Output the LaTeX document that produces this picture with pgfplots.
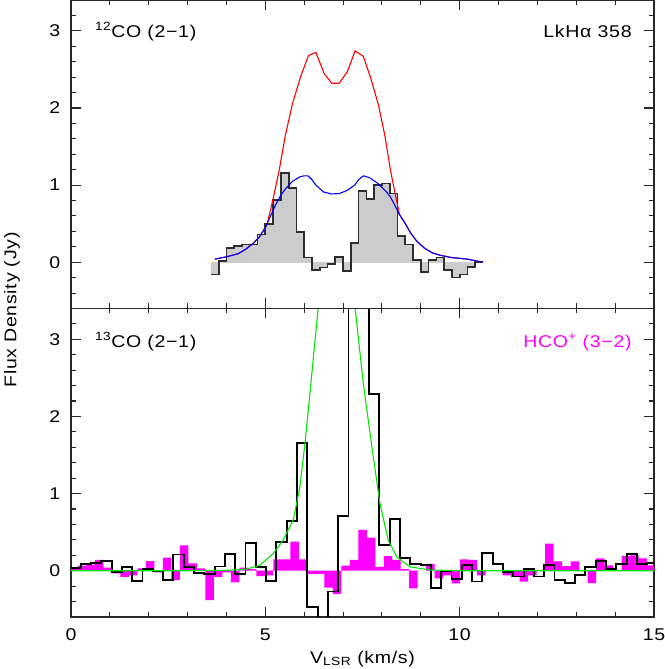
\documentclass[border=0pt]{standalone}
\usepackage{fontspec}
\setmainfont{Liberation Sans}[FakeStretch=1.15,LetterSpace=4]
\usepackage{pgfplots}
\pgfplotsset{compat=1.18}
\definecolor{fillgray}{RGB}{204,204,204}
\definecolor{outgray}{RGB}{45,45,45}
\definecolor{mygreen}{RGB}{0,230,0}
\definecolor{framegray}{RGB}{40,40,40}
\definecolor{mag}{RGB}{255,0,255}
\definecolor{pred}{RGB}{255,0,0}
\definecolor{pblue}{RGB}{0,0,255}

\pgfplotstableread{
x y
3.6 -0.16
3.8 0.02
4.0 0.18
4.2 0.21
4.4 0.23
4.6 0.23
4.8 0.36
5.0 0.50
5.2 0.81
5.4 1.16
5.6 0.96
5.8 0.39
6.0 0.06
6.2 -0.10
6.4 -0.07
6.6 -0.02
6.8 0.07
7.0 -0.11
7.2 0.25
7.4 0.92
7.6 0.82
7.8 1.00
8.0 1.02
8.2 0.89
8.4 0.34
8.6 0.23
8.8 0.03
9.0 -0.13
9.2 0.03
9.4 0.06
9.6 -0.10
9.8 -0.20
10.0 -0.16
10.2 -0.06
10.4 0.00
10.6 0.00
}\twelveco

\pgfplotstableread{
x y
3.70 0.04
4.0 0.07
4.3 0.11
4.5 0.17
4.7 0.25
4.85 0.33
5.0 0.45
5.1 0.56
5.25 0.73
5.4 0.87
5.5 0.94
5.7 1.05
5.9 1.11
6.0 1.12
6.1 1.12
6.2 1.07
6.3 1.00
6.5 0.91
6.7 0.885
6.9 0.89
7.1 0.93
7.3 1.00
7.4 1.07
7.52 1.12
7.6 1.11
7.7 1.09
7.9 1.02
8.1 0.92
8.2 0.86
8.3 0.77
8.45 0.62
8.6 0.50
8.75 0.37
8.9 0.27
9.1 0.18
9.3 0.12
9.5 0.09
9.8 0.06
10.2 0.04
10.6 0.00
}\bluemodel

\pgfplotstableread{
x y
3.70 0.04
4.0 0.07
4.3 0.11
4.5 0.17
4.7 0.25
4.85 0.33
5.0 0.45
5.05 0.50
5.2 0.82
5.36 1.20
5.51 1.63
5.70 2.06
5.91 2.41
6.11 2.68
6.30 2.72
6.51 2.45
6.71 2.32
6.90 2.32
7.11 2.47
7.31 2.74
7.52 2.67
7.71 2.39
7.91 2.04
8.08 1.63
8.22 1.19
8.34 0.89
8.45 0.62
8.6 0.50
8.75 0.37
8.9 0.27
9.1 0.18
9.3 0.12
9.5 0.09
9.8 0.06
10.2 0.04
10.6 0.00
}\redmodel

\pgfplotstableread{
x y
0 0.03
0.25 0.09
0.515 0.10
0.78 0.13
1.045 -0.02
1.31 0.05
1.575 -0.13
1.84 0.02
2.105 0.0
2.37 -0.12
2.635 0.21
2.9 0.045
3.165 -0.026
3.43 -0.043
3.695 0.055
3.96 0.22
4.225 -0.043
4.49 0.355
4.755 0.05
5.02 -0.13
5.285 0.377
5.55 0.65
5.815 1.66
6.08 -0.476
6.345 -1.0
6.61 -0.27
6.875 0.71
7.14 4.5
7.405 4.5
7.67 2.29
7.935 0.333
8.2 0.667
8.465 0.16
8.73 0.09
8.995 0.08
9.26 -0.22
9.525 -0.005
9.79 -0.105
10.055 0.08
10.32 -0.14
10.585 0.235
10.85 0.09
11.115 -0.02
11.38 -0.075
11.645 0.027
11.91 -0.075
12.175 0.07
12.44 -0.12
12.705 -0.165
12.97 -0.055
13.235 0.05
13.5 0.13
13.765 0.027
14.03 0.085
14.295 0.22
14.56 0.085
14.825 0.10
15.0 0.10
}\thirteenco

\pgfplotstableread{
x y
0 0.03
0.18 0.065
0.399 0.08
0.617 0.14
0.836 0.04
1.054 -0.035
1.273 -0.08
1.492 -0.06
1.71 0.03
1.929 0.125
2.147 -0.02
2.366 0.17
2.584 -0.12
2.803 0.33
3.021 0.095
3.24 0.03
3.458 -0.38
3.677 -0.08
3.895 -0.02
4.114 -0.15
4.332 0.04
4.551 0.02
4.769 -0.07
4.988 -0.06
5.206 0.147
5.425 0.147
5.643 0.377
5.862 0.147
6.08 -0.04
6.299 -0.04
6.517 -0.22
6.736 -0.30
6.954 0.065
7.173 0.14
7.391 0.53
7.61 0.43
7.828 0.05
8.047 0.19
8.265 0.14
8.484 0.02
8.702 -0.23
8.921 0.0
9.139 0.09
9.358 -0.10
9.576 -0.06
9.795 -0.165
10.013 0.147
10.232 0.14
10.45 -0.06
10.669 0.0
10.887 0.0
11.106 -0.06
11.324 -0.08
11.543 -0.14
11.761 -0.06
11.98 0.0
12.198 0.35
12.417 0.12
12.635 0.06
12.854 0.12
13.072 0.0
13.291 -0.16
13.509 0.16
13.728 0.07
13.946 0.0
14.165 0.19
14.383 0.20
14.602 0.16
14.82 0.07
15.0 0.07
}\hcop

\pgfplotstableread{
x y
0 0.0
3.0 0.0
4.0 0.005
4.5 0.02
4.86 0.07
5.2 0.22
5.46 0.40
5.72 0.66
5.89 1.09
6.02 1.65
6.19 2.52
6.36 3.41
6.5 4.2
6.8 4.4
7.1 4.2
7.31 3.41
7.52 2.43
7.74 1.61
7.95 0.87
8.16 0.40
8.38 0.18
8.72 0.05
9.24 0.01
10.0 0.0
15.0 0.0
}\greenmodel

\begin{document}
\fontsize{17}{20}\selectfont
\begin{tikzpicture}
\pgfplotsset{
  panel/.style={
    scale only axis, width=583pt, height=308.5pt,
    xmin=0, xmax=15, ymin=-0.6, ymax=3.4,
    xtick={0,5,10,15}, minor xtick={1,2,3,4,6,7,8,9,11,12,13,14},
    ytick={0,1,2,3},
    minor ytick={-0.4,-0.2,0.2,0.4,0.6,0.8,1.2,1.4,1.6,1.8,2.2,2.4,2.6,2.8,3.2},
    tick align=inside, tick pos=both,
    major tick length=10pt, minor tick length=5pt,
    axis line style={line width=1.4pt, framegray},
    tick style={line width=1.1pt, framegray},
    /pgf/number format/assume math mode=true,
    tick label style={font=\fontsize{17}{20}\selectfont},
    yticklabel style={xshift=-5pt},
    xticklabel style={yshift=-6pt},
    anchor=south west,
  }
}
% bottom panel
\begin{axis}[panel, at={(0pt,0pt)}]
\addplot[const plot mark left, fill=mag, draw=none] table {\hcop} \closedcycle;
\addplot[const plot mark left, black, line width=1.9pt] table {\thirteenco};
\addplot[mygreen, line width=1.1pt] table {\greenmodel};
\node[anchor=base west, inner sep=0pt] at (rel axis cs:0.041,0.875) {\textsuperscript{13}CO (2−1)};
\node[anchor=base east, inner sep=0pt, text=mag] at (rel axis cs:0.962,0.875) {HCO\textsuperscript{+} (3−2)};
\end{axis}
% top panel
\begin{axis}[panel, at={(0pt,308.5pt)}, xticklabels={}]
\addplot[const plot mark left, fill=fillgray, draw=fillgray, line width=0.8pt] table {\twelveco} \closedcycle;
\addplot[const plot mark left, outgray, line width=1.7pt] table {\twelveco};
\addplot[pred, line width=1.1pt] table {\redmodel};
\addplot[pblue, line width=1.1pt] table {\bluemodel};
\node[anchor=base west, inner sep=0pt] at (rel axis cs:0.041,0.88) {\textsuperscript{12}CO (2−1)};
\node[anchor=base east, inner sep=0pt] at (rel axis cs:0.962,0.88) {LkHα 358};
\end{axis}
\node[rotate=90, anchor=center] at (-59pt,307pt) {Flux Density (Jy)};
\node[anchor=base] at (291.5pt,-46pt) {V\textsubscript{LSR} (km/s)};
\pgfresetboundingbox
\path[use as bounding box] (-71pt,-52pt) rectangle (593pt,617pt);
\end{tikzpicture}
\end{document}
